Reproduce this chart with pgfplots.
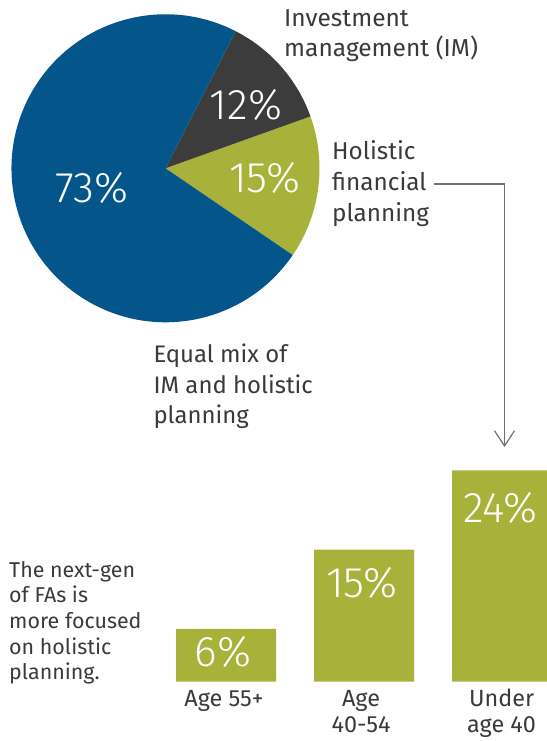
\documentclass[border=0pt]{standalone}
\usepackage{fontspec}
\setmainfont{Fira Sans}
\newfontfamily\lightfont{Fira Sans Light}
\usepackage{pgfplots}
\pgfplotsset{compat=1.18}
\definecolor{pieblue}{HTML}{03558A}
\definecolor{piegray}{HTML}{3C3C3C}
\definecolor{olivegreen}{HTML}{A8B23A}
\definecolor{txt}{HTML}{3A3A3A}
\definecolor{arrowgray}{HTML}{707070}
\begin{document}
\begin{tikzpicture}[x=1bp,y=1bp]
\path[use as bounding box] (0,0) rectangle (547,741);
% pie values (percent)
\def\vHol{15}\def\vIM{12}\def\vMix{73}
\pgfmathsetmacro\aA{-34.3}
\pgfmathsetmacro\aB{\aA+\vHol*3.6}
\pgfmathsetmacro\aC{\aB+\vIM*3.6}
\pgfmathsetmacro\aD{\aC+\vMix*3.6}
\begin{axis}[hide axis, x=1bp, y=1bp, xmin=-160, xmax=160, ymin=-160, ymax=160,
  anchor=south west, at={(5.5bp,412.7bp)}, clip=false]
\fill[olivegreen] (axis cs:0,0) -- (axis cs:{154*cos(\aA)},{154*sin(\aA)}) arc[start angle=\aA, end angle=\aB, radius=154bp] -- cycle;
\fill[piegray] (axis cs:0,0) -- (axis cs:{154*cos(\aB)},{154*sin(\aB)}) arc[start angle=\aB, end angle=\aC, radius=154bp] -- cycle;
\fill[pieblue] (axis cs:0,0) -- (axis cs:{154*cos(\aC)},{154*sin(\aC)}) arc[start angle=\aC, end angle=\aD, radius=154bp] -- cycle;
\end{axis}
% bars
\begin{axis}[hide axis, ybar, bar width=100bp, x=138bp, y=8.8bp, xmin=-0.5, xmax=2.5, ymin=0, ymax=25,
  anchor=south west, at={(157bp,59.3bp)}, clip=false]
\addplot[fill=olivegreen, draw=none] coordinates {(0,6) (1,15) (2,24)};
\end{axis}
% percentage labels
\begin{scope}[every node/.style={text=white, font={\lightfont\fontsize{43}{43}\selectfont}, inner sep=0pt, anchor=base}]
\node at (92,538) {73\%};
\node at (246,621.7) {12\%};
\node at (265,548.3) {15\%};
\node at (223,74.3) {6\%};
\node at (362,143) {15\%};
\node at (500,218.3) {24\%};
\end{scope}
% text labels (base anchor = baseline of last line)
\begin{scope}[every node/.style={text=txt, inner sep=0pt}]
\node[anchor=base west, align=left, font={\fontsize{24.6}{31}\selectfont}] at (284,684) {Investment\\management (IM)};
\node[anchor=base west, align=left, font={\fontsize{24.4}{31}\selectfont}] at (332,519.3) {Holistic\\financial\\planning};
\node[anchor=base west, align=left, font={\fontsize{24}{31}\selectfont}] at (153.3,317) {Equal mix of\\IM and holistic\\planning};
\node[anchor=base west, align=left, font={\fontsize{21.5}{25.8}\selectfont}] at (9,61) {The next-gen\\of FAs is\\more focused\\on holistic\\planning.};
\node[anchor=base, align=center, font={\fontsize{23.5}{26.5}\selectfont}] at (224,34.3) {Age 55+};
\node[anchor=base, align=center, font={\fontsize{23.5}{26.5}\selectfont}] at (361,8) {Age\\40-54};
\node[anchor=base, align=center, font={\fontsize{23.5}{26.5}\selectfont}] at (501.6,8) {Under\\age 40};
\end{scope}
% arrow
\draw[arrowgray, line width=1.2bp] (434,557) -- (504.5,557) -- (504.5,295.5);
\draw[arrowgray, line width=1.2bp] (494.5,310.3) -- (504.5,295) -- (514.5,310.3);
\end{tikzpicture}
\end{document}
